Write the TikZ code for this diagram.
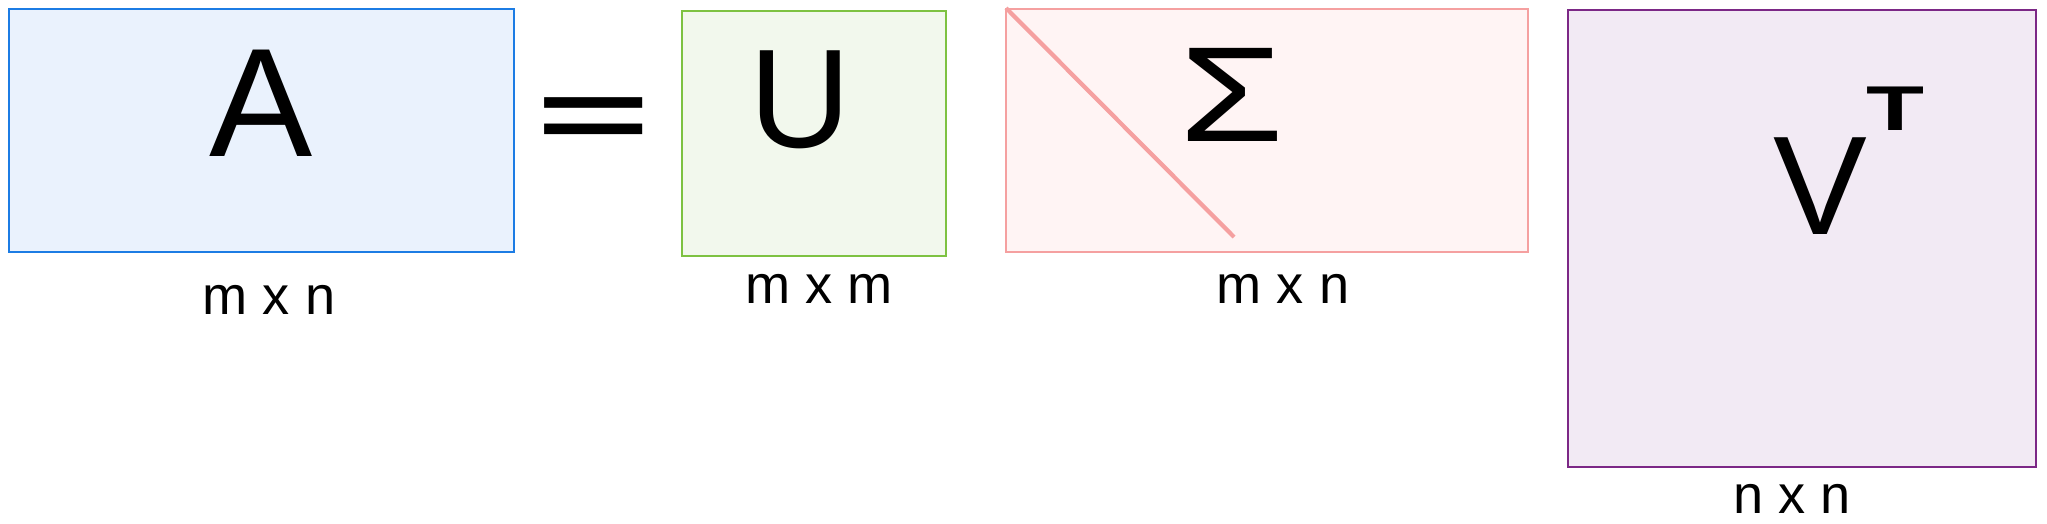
\documentclass[tikz,border=0pt]{standalone}
\usepackage{fontspec}
\setmainfont{Liberation Sans}
\usepackage{xcolor}
\usepackage{tikz}
\usetikzlibrary{calc, positioning}

\definecolor{blueline}{RGB}{28,124,228}
\definecolor{bluefill}{RGB}{234,242,253}
\definecolor{greenline}{RGB}{126,194,66}
\definecolor{greenfill}{RGB}{242,248,237}
\definecolor{pinkline}{RGB}{245,160,160}
\definecolor{pinkfill}{RGB}{255,244,244}
\definecolor{purpleline}{RGB}{124,40,134}
\definecolor{purplefill}{RGB}{242,234,244}

\tikzset{
    matbox/.style={line width=0.8pt},
    bigletter/.style={inner sep=0pt, font=\fontsize{40}{40}\selectfont},
    dimlabel/.style={inner sep=0pt, font=\fontsize{15.4}{16}\selectfont}
}

\begin{document}
\begin{tikzpicture}[x=0.01cm, y=-0.01cm]
    \useasboundingbox (0,0) rectangle (2047,524);

    % =================================================================
    % MATRIX A (m x n)
    % =================================================================
    \draw[matbox, draw=blueline, fill=bluefill] (9,9) rectangle (514,252);
    \node[bigletter, font=\fontsize{44}{44}\selectfont] (A) at (261,103) {A};
    \node[dimlabel] (dimA) at (269,300) {m x n};

    % Equals sign
    \node[inner sep=0pt, font=\fontsize{27.8}{28}\selectfont\bfseries] (eq) at (594,123.5) {\scalebox{2.0}[1]{=}};

    % =================================================================
    % MATRIX U (m x m)
    % =================================================================
    \draw[matbox, draw=greenline, fill=greenfill] (682,11) rectangle (946,256);
    \node[bigletter] (U) at (800,100) {U};
    \node[dimlabel] (dimU) at (819,289) {m x m};

    % =================================================================
    % MATRIX SIGMA (m x n), diagonal
    % =================================================================
    \draw[matbox, draw=pinkline, fill=pinkfill] (1006,9) rectangle (1528,252);
    \coordinate (diagTop) at (1006,8);
    \coordinate (diagEnd) at (1234,237);
    \draw[pinkline, line width=1.2pt] (diagTop) -- (diagEnd);
    \node[bigletter, font=\fontsize{38.5}{38.5}\selectfont] (S) at (1232,95) {\scalebox{1.25}[1]{Σ}};
    \node[dimlabel] (dimS) at (1283,289) {m x n};

    % =================================================================
    % MATRIX V^T (n x n)
    % =================================================================
    \draw[matbox, draw=purpleline, fill=purplefill] (1568,10) rectangle (2036,467);
    \node[bigletter] (V) at (1820,186) {V};
    \node[inner sep=0pt, font=\fontsize{18}{18}\selectfont\bfseries] (T) at (1895.5,109) {\scalebox{1.5}[1]{T}};
    \node[dimlabel] (dimV) at (1792,499) {n x n};

\end{tikzpicture}
\end{document}
